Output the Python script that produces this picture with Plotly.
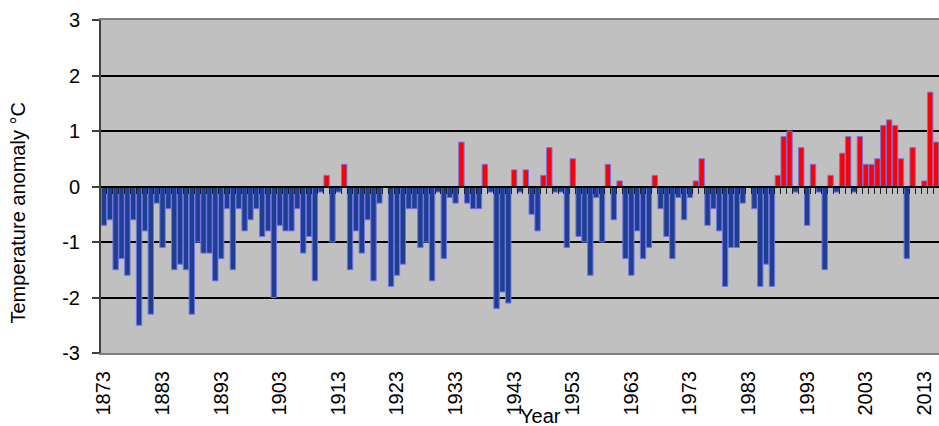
import plotly.graph_objects as go

years = list(range(1873, 2016))
anomaly = [
    -0.7, -0.6, -1.5, -1.3, -1.6, -0.6, -2.5, -0.8, -2.3, -0.3,   # 1873-1882
    -1.1, -0.4, -1.5, -1.4, -1.5, -2.3, -1.0, -1.2, -1.2, -1.7,   # 1883-1892
    -1.3, -0.4, -1.5, -0.4, -0.8, -0.6, -0.4, -0.9, -0.8, -2.0,   # 1893-1902
    -0.7, -0.8, -0.8, -0.4, -1.2, -0.9, -1.7, -0.1, 0.2, -1.0,    # 1903-1912
    -0.1, 0.4, -1.5, -0.8, -1.2, -0.6, -1.7, -0.3, 0.0, -1.8,     # 1913-1922
    -1.6, -1.4, -0.4, -0.4, -1.1, -1.0, -1.7, -0.1, -1.3, -0.2,   # 1923-1932
    -0.3, 0.8, -0.3, -0.4, -0.4, 0.4, -0.1, -2.2, -1.9, -2.1,     # 1933-1942
    0.3, -0.1, 0.3, -0.5, -0.8, 0.2, 0.7, -0.1, -0.1, -1.1,       # 1943-1952
    0.5, -0.9, -1.0, -1.6, -0.2, -1.0, 0.4, -0.6, 0.1, -1.3,      # 1953-1962
    -1.6, -0.8, -1.3, -1.1, 0.2, -0.4, -0.9, -1.3, -0.2, -0.6,    # 1963-1972
    -0.2, 0.1, 0.5, -0.7, -0.4, -0.8, -1.8, -1.1, -1.1, -0.3,     # 1973-1982
    0.0, -0.4, -1.8, -1.4, -1.8, 0.2, 0.9, 1.0, -0.1, 0.7,        # 1983-1992
    -0.7, 0.4, -0.1, -1.5, 0.2, -0.1, 0.6, 0.9, -0.1, 0.9,        # 1993-2002
    0.4, 0.4, 0.5, 1.1, 1.2, 1.1, 0.5, -1.3, 0.7, 0.0,            # 2003-2012
    0.1, 1.7, 0.8,                                                # 2013-2015
]
tick_years = list(range(1873, 2016, 10))
tick_labels = [str(y) for y in tick_years]
y_ticks = [-3, -2, -1, 0, 1, 2, 3]
y_tick_labels = [str(v) for v in y_ticks]

BLUE = "#1E3F8F"
RED = "#FF0000"
colors = [RED if v > 0 else BLUE for v in anomaly]

FONT = "Liberation Sans, Arial, sans-serif"

fig = go.Figure()
fig.add_trace(go.Bar(
    x=years, y=anomaly,
    marker=dict(color=colors, line=dict(color="rgba(115,115,235,1)", width=1)),
    showlegend=False,
))

x_range = [years[0] - 0.5, years[-1] + 0.5]

fig.update_layout(
    width=939, height=426,
    margin=dict(l=101, r=0, t=20, b=73, autoexpand=False),
    paper_bgcolor="white",
    plot_bgcolor="#C0C0C0",
    bargap=0.08,
    font=dict(family=FONT, size=20, color="black"),
    xaxis=dict(
        range=x_range, automargin=False,
        tickmode="array", tickvals=tick_years, ticktext=tick_labels,
        tickangle=-90, ticks="", showgrid=False, zeroline=False,
        showline=True, linecolor="#808080", linewidth=2, mirror=True,
        ticklabelstandoff=8,
        tickfont=dict(family=FONT, size=20, color="black"),
    ),
    xaxis2=dict(
        overlaying="x", anchor="free", position=0.5,
        range=x_range,
        tickmode="array", tickvals=[y + 0.5 for y in years],
        ticks="outside", ticklen=6, tickwidth=1, tickcolor="#202020",
        showticklabels=False, showgrid=False, zeroline=False,
        showline=True, linecolor="black", linewidth=2,
    ),
    yaxis=dict(
        range=[-3, 3], tickmode="array", tickvals=y_ticks, ticktext=y_tick_labels,
        automargin=False,
        showgrid=True, gridcolor="black", gridwidth=2,
        zeroline=False,
        showline=True, linecolor="#404040", linewidth=2,
        ticks="outside", ticklen=7, tickwidth=2, tickcolor="#404040",
        ticklabelstandoff=8,
        tickfont=dict(family=FONT, size=20, color="black"),
    ),
    annotations=[
        dict(text="Year", xref="paper", yref="paper", x=0.525, y=-0.189,
             xanchor="center", yanchor="middle", showarrow=False,
             font=dict(family=FONT, size=20, color="black")),
        dict(text="Temperature anomaly °C", xref="paper", yref="paper",
             x=-0.099, y=0.419, textangle=-90,
             xanchor="center", yanchor="middle", showarrow=False,
             font=dict(family=FONT, size=20, color="black")),
    ],
)

# invisible helper trace so the zero-line axis is drawn
fig.add_trace(go.Scatter(x=[years[0]], y=[0], xaxis="x2", mode="markers",
                         marker=dict(opacity=0), showlegend=False, hoverinfo="skip"))

fig.write_html(
    "out.html",
    config={"displayModeBar": False},
    post_script="document.body.style.margin='0';document.body.style.overflow='hidden';",
)
